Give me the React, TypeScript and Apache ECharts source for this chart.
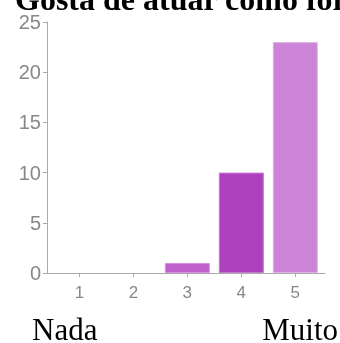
import React, { useEffect, useRef } from "react";
import * as echarts from "echarts";

const titleText = "Gosta de atuar como formador?";
const scaleLevels = [1, 2, 3, 4, 5];
const counts = [0, 0, 1, 10, 23];
const yTicks = [0, 5, 10, 15, 20, 25];
const lowLabel = "Nada";
const highLabel = "Muito";

const barColors = ["#c062cc", "#c062cc", "#bf60cb", "#ad41bd", "#cc85d6"];
const barBorders = ["#d890df", "#d890df", "#d890df", "#c57ad1", "#e2b0e8"];

export default function App() {
  const ref = useRef<HTMLDivElement>(null);
  useEffect(() => {
    if (!ref.current) return;
    const chart = echarts.init(ref.current, undefined, { renderer: "svg" });
    const axisColor = "#aaaaaa";
    const labelColor = "#888888";
    const serif = "'Liberation Serif', 'Times New Roman', serif";
    chart.setOption({
      animation: false,
      grid: { left: 47, right: 15, top: 22, bottom: 70 },
      xAxis: {
        type: "value",
        min: 0.4,
        max: 5.55,
        splitLine: { show: false },
        axisLine: { show: true, lineStyle: { color: axisColor, width: 1 } },
        axisTick: {
          show: true,
          length: 4,
          customValues: scaleLevels,
          lineStyle: { color: axisColor },
        },
        axisLabel: {
          customValues: scaleLevels,
          color: labelColor,
          fontFamily: "Liberation Sans, Arial, sans-serif",
          fontSize: 17,
          margin: 11,
        },
      },
      yAxis: {
        type: "value",
        min: yTicks[0],
        max: yTicks[yTicks.length - 1],
        interval: 5,
        splitLine: { show: false },
        axisLine: { show: true, lineStyle: { color: axisColor, width: 1 } },
        axisTick: { show: true, length: 4, lineStyle: { color: axisColor } },
        axisLabel: {
          color: labelColor,
          fontFamily: "Liberation Sans, Arial, sans-serif",
          fontSize: 20,
          margin: 6,
        },
      },
      series: [
        {
          type: "bar",
          barWidth: 45,
          data: scaleLevels.map((lv, i) => ({
            value: [lv, counts[i]],
            itemStyle: {
              color: barColors[i],
              borderColor: barBorders[i],
              borderWidth: counts[i] > 0 ? 1 : 0,
            },
          })),
        },
      ],
      graphic: [
        {
          type: "text",
          x: 15,
          y: -1,
          style: {
            text: titleText,
            font: "bold 32px " + serif,
            fill: "#000",
            align: "left",
            verticalAlign: "middle",
          },
        },
        {
          type: "text",
          x: 32,
          y: 329,
          style: {
            text: lowLabel,
            font: "31px " + serif,
            fill: "#000",
            align: "left",
            verticalAlign: "middle",
          },
        },
        {
          type: "text",
          x: 338,
          y: 329,
          style: {
            text: highLabel,
            font: "31px " + serif,
            fill: "#000",
            align: "right",
            verticalAlign: "middle",
          },
        },
      ],
    });
    return () => chart.dispose();
  }, []);
  return (
    <div
      ref={ref}
      style={{ position: "fixed", left: 0, top: 0, width: 340, height: 343 }}
    />
  );
}
